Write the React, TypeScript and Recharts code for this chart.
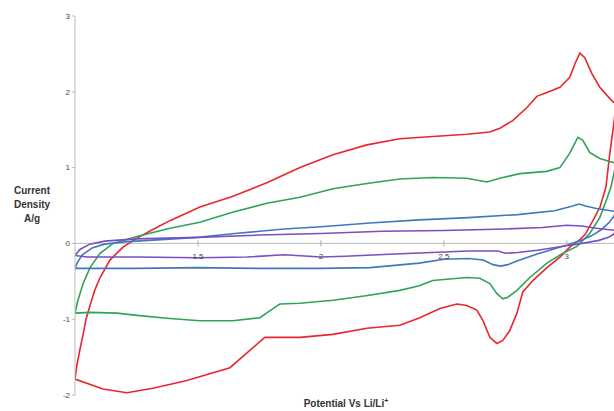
import React from 'react';
import { LineChart, Line, XAxis, YAxis, ReferenceLine } from 'recharts';

// potential (V vs Li/Li+) and current density (A/g), one closed CV loop per scan
const redLoop: [number, number][] = [
  [1.0, -1.79], [1.008, -1.6], [1.02, -1.4], [1.033, -1.2], [1.045, -1.0], [1.061, -0.82], [1.08, -0.62],
  [1.102, -0.45], [1.142, -0.22], [1.195, -0.05], [1.252, 0.07], [1.32, 0.19], [1.386, 0.3],
  [1.508, 0.48], [1.64, 0.62], [1.78, 0.8], [1.915, 1.0], [2.049, 1.17], [2.187, 1.3], [2.321, 1.38],
  [2.455, 1.41], [2.593, 1.44], [2.687, 1.47], [2.728, 1.52], [2.78, 1.62], [2.837, 1.79],
  [2.878, 1.94], [2.919, 1.99], [2.972, 2.06], [3.012, 2.19], [3.033, 2.37], [3.053, 2.51],
  [3.073, 2.45], [3.102, 2.24], [3.134, 2.06], [3.175, 1.91], [3.2, 1.83],
  [3.19, 1.55], [3.175, 1.19], [3.159, 0.74], [3.135, 0.48], [3.106, 0.3], [3.075, 0.12], [3.053, 0.05],
  [3.012, -0.05], [2.972, -0.18], [2.919, -0.32], [2.862, -0.49], [2.821, -0.64], [2.797, -0.92],
  [2.768, -1.15], [2.74, -1.28], [2.715, -1.32], [2.687, -1.24], [2.659, -1.02], [2.634, -0.88],
  [2.593, -0.82], [2.553, -0.8], [2.484, -0.86], [2.402, -0.98], [2.321, -1.08], [2.187, -1.12],
  [2.049, -1.2], [1.915, -1.24], [1.772, -1.24], [1.711, -1.41], [1.63, -1.64], [1.455, -1.81],
  [1.317, -1.91], [1.211, -1.97], [1.114, -1.92], [1.0, -1.79],
];

const greenLoop: [number, number][] = [
  [1.0, -0.92], [1.012, -0.75], [1.033, -0.53], [1.061, -0.32], [1.102, -0.13], [1.155, 0.0],
  [1.252, 0.09], [1.386, 0.2], [1.508, 0.28], [1.64, 0.41], [1.78, 0.53], [1.915, 0.61],
  [2.049, 0.72], [2.187, 0.79], [2.321, 0.85], [2.455, 0.87], [2.593, 0.86], [2.675, 0.81],
  [2.728, 0.86], [2.809, 0.92], [2.919, 0.95], [2.972, 1.0], [3.012, 1.19], [3.045, 1.4],
  [3.065, 1.36], [3.093, 1.2], [3.134, 1.12], [3.175, 1.08], [3.2, 1.06],
  [3.19, 0.9], [3.18, 0.75], [3.164, 0.6], [3.134, 0.34], [3.093, 0.13], [3.041, -0.04],
  [2.984, -0.13], [2.919, -0.26], [2.85, -0.45], [2.797, -0.62], [2.76, -0.71], [2.74, -0.73],
  [2.715, -0.66], [2.687, -0.53], [2.646, -0.46], [2.593, -0.45], [2.455, -0.49], [2.4, -0.56],
  [2.321, -0.62], [2.183, -0.69], [2.049, -0.75], [1.915, -0.79], [1.833, -0.8], [1.805, -0.86],
  [1.752, -0.98], [1.642, -1.02], [1.508, -1.02], [1.386, -0.99], [1.252, -0.95], [1.171, -0.92],
  [1.061, -0.91], [1.0, -0.92],
];

const blueLoop: [number, number][] = [
  [1.0, -0.33], [1.01, -0.25], [1.03, -0.15], [1.07, -0.06], [1.12, -0.01], [1.2, 0.02],
  [1.35, 0.05], [1.5, 0.08], [1.65, 0.13], [1.85, 0.19], [2.0, 0.22], [2.2, 0.27], [2.4, 0.31],
  [2.6, 0.34], [2.8, 0.38], [2.95, 0.43], [3.02, 0.49], [3.05, 0.52], [3.08, 0.49], [3.12, 0.46],
  [3.2, 0.42],
  [3.19, 0.35], [3.17, 0.27], [3.14, 0.18], [3.1, 0.1], [3.05, 0.03], [3.0, -0.02], [2.94, -0.08],
  [2.87, -0.15], [2.8, -0.23], [2.76, -0.28], [2.73, -0.3], [2.7, -0.28], [2.66, -0.22],
  [2.6, -0.2], [2.5, -0.21], [2.4, -0.26], [2.3, -0.29], [2.2, -0.32], [2.0, -0.33],
  [1.75, -0.33], [1.5, -0.32], [1.25, -0.33], [1.0, -0.33],
];

const purpleLoop: [number, number][] = [
  [1.0, -0.16], [1.02, -0.08], [1.06, -0.01], [1.12, 0.03], [1.25, 0.06], [1.5, 0.08],
  [1.75, 0.11], [2.0, 0.13], [2.25, 0.16], [2.5, 0.17], [2.75, 0.19], [2.9, 0.21], [3.0, 0.24],
  [3.06, 0.23], [3.12, 0.2], [3.2, 0.17],
  [3.19, 0.12], [3.17, 0.08], [3.13, 0.04], [3.08, 0.01], [3.02, -0.02], [2.96, -0.05],
  [2.88, -0.09], [2.8, -0.12], [2.75, -0.13], [2.72, -0.1], [2.6, -0.1], [2.45, -0.12],
  [2.3, -0.14], [2.1, -0.17], [2.0, -0.18], [1.85, -0.15], [1.7, -0.18], [1.5, -0.19],
  [1.25, -0.18], [1.05, -0.18], [1.0, -0.16],
];

const xTicks = [1.5, 2, 2.5, 3];
const yTicks = [-2, -1, 0, 1, 2, 3];

const TOP = 16;
const PLOT_H = 379;
const Y_MIN = -2;
const Y_MAX = 3;
const ZERO_Y = TOP + (PLOT_H * Y_MAX) / (Y_MAX - Y_MIN);

const toRows = (loop: [number, number][]) => loop.map(([x, y]) => ({ x, y }));

// Excel-style axis crossing at y = 0: the labels sit just under the zero line
const renderXTick = (props: any) => {
  const { x, payload } = props;
  return (
    <g key={`xt-${payload.value}`}>
      <line x1={x} x2={x} y1={ZERO_Y - 3} y2={ZERO_Y + 3} stroke="#aaa" />
      <text x={x} y={ZERO_Y + 16} textAnchor="middle" fontSize={8} fill="#444">
        {payload.value}
      </text>
    </g>
  );
};

const series = [
  { name: 'red', data: redLoop, color: '#e8262e' },
  { name: 'green', data: greenLoop, color: '#2ea35a' },
  { name: 'blue', data: blueLoop, color: '#3f78bf' },
  { name: 'purple', data: purpleLoop, color: '#7a4fbf' },
];

export default function App() {
  return (
    <div
      style={{
        position: 'absolute',
        left: 0,
        top: 0,
        width: 614,
        height: 411,
        overflow: 'hidden',
        background: '#fff',
        fontFamily: '"Liberation Sans", Arial, sans-serif',
      }}
    >
      <LineChart width={617} height={411} margin={{ top: TOP, right: 1, left: 55, bottom: 6 }}>
        <XAxis
          type="number"
          dataKey="x"
          domain={[1, 3.2]}
          ticks={xTicks}
          axisLine={false}
          tickLine={false}
          height={10}
          tick={renderXTick}
          allowDataOverflow
        />
        <YAxis
          type="number"
          domain={[Y_MIN, Y_MAX]}
          ticks={yTicks}
          width={20}
          axisLine={{ stroke: '#bbb' }}
          tickLine={{ stroke: '#bbb' }}
          tickSize={3}
          tick={{ fontSize: 8, fill: '#444' }}
          allowDataOverflow
        />
        <ReferenceLine y={0} stroke="#bbb" />
        {series.map(s => (
          <Line
            key={s.name}
            data={toRows(s.data)}
            dataKey="y"
            type="linear"
            stroke={s.color}
            strokeWidth={1.6}
            dot={false}
            isAnimationActive={false}
          />
        ))}
      </LineChart>
      <div
        style={{
          position: 'absolute',
          left: 2,
          top: 184,
          width: 60,
          textAlign: 'center',
          fontSize: 10,
          fontWeight: 'bold',
          lineHeight: '14px',
          color: '#333',
        }}
      >
        Current
        <br />
        Density
        <br />
        A/g
      </div>
      <div
        style={{
          position: 'absolute',
          left: 246,
          top: 397,
          width: 200,
          textAlign: 'center',
          fontSize: 10,
          fontWeight: 'bold',
          color: '#333',
        }}
      >
        Potential Vs Li/Li<sup style={{ fontSize: 7 }}>+</sup>
      </div>
    </div>
  );
}
